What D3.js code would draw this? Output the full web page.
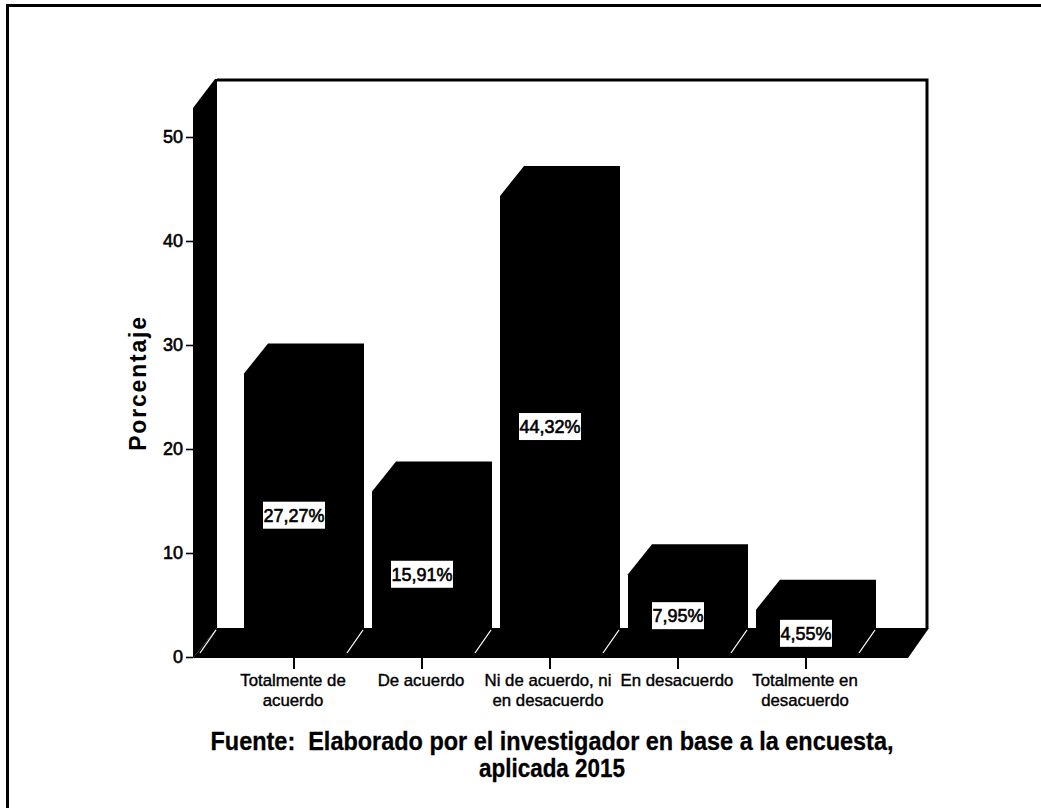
<!DOCTYPE html>
<html><head><meta charset="utf-8">
<script src="https://cdnjs.cloudflare.com/ajax/libs/d3/7.8.5/d3.min.js"></script>
<style>html,body{margin:0;padding:0;background:#fff}svg{display:block}text{font-family:"Liberation Sans",Arial,sans-serif;fill:#000}</style>
</head><body><svg id="c" width="1041" height="808"></svg>
<script>
const categories = [["Totalmente de","acuerdo"],["De acuerdo"],["Ni de acuerdo, ni","en desacuerdo"],["En desacuerdo"],["Totalmente en","desacuerdo"]];
const percentages = [27.27,15.91,44.32,7.95,4.55];
const yTicks = [0,10,20,30,40,50];
const titleLines = ["Fuente:  Elaborado por el investigador en base a la encuesta,","aplicada 2015"];
const titleWidths = [683,146];
const yTitle = "Porcentaje";

const svg = d3.select("#c");
const dx = 24, dy = 30;
const y = d3.scaleLinear().domain([0,50]).range([657,137]);
const keys = categories.map((_,i)=>i);
const x = d3.scaleBand().domain(keys).range([244,852]).paddingInner(32/128).paddingOuter(0);
const w = x.bandwidth();
const y0 = y(0)+1, wallL = 193, floorR = 908, topBack = 80;

// page frame
svg.append("path").attr("d","M7.5,808V5.5H1041").attr("fill","none").attr("stroke","#000").attr("stroke-width",3);

// back wall outline
svg.append("path").attr("d",`M${wallL+dx},${topBack}H${floorR+dx-5}V${y0-dy}`).attr("fill","none").attr("stroke","#000").attr("stroke-width",3);
// left wall
svg.append("path").attr("d",`M${wallL},${topBack+dy-2}L${wallL+dx-2},${topBack-1}H${wallL+dx}V${y0-dy}L${wallL},${y0}Z`).attr("fill","#000");
// floor
svg.append("path").attr("d",`M${wallL},${y0}L${wallL+dx},${y0-dy}H${floorR+dx-3}L${floorR},${y0}Z`).attr("fill","#000");

// bars
svg.append("g").selectAll("path").data(percentages).join("path")
  .attr("fill","#000")
  .attr("d",(v,i)=>{const a=x(i),t=y(v);return `M${a},${y0}V${t}L${a+dx},${t-dy}H${a+w+dx}V${y0-dy}L${a+w},${y0}Z`;});

// white floor grid slashes
const slashX = [wallL+dx].concat(keys.map(i=>x(i)+w+dx));
svg.append("g").selectAll("line").data(slashX).join("line")
  .attr("x1",d=>d-1).attr("y1",y0-dy+2).attr("x2",d=>d-17).attr("y2",y0-dy+25)
  .attr("stroke","#fff").attr("stroke-width",1.3);

// y axis
const yAxis = svg.append("g").attr("transform",`translate(${wallL},0)`)
  .call(d3.axisLeft(y).tickValues(yTicks).tickSize(7).tickPadding(3));
yAxis.select(".domain").remove();
yAxis.selectAll("line").attr("stroke","#000").attr("stroke-width",1.6);
yAxis.selectAll("text").style("font-size","18px").style("font-family","Liberation Sans").attr("stroke","#000").attr("stroke-width",0.6);

// x axis
const xAxis = svg.append("g").attr("transform",`translate(2,${y0})`)
  .call(d3.axisBottom(x).tickSize(11).tickFormat(""));
xAxis.select(".domain").remove();
xAxis.selectAll("line").attr("stroke","#000").attr("stroke-width",2);
const catG = svg.append("g").selectAll("text").data(categories).join("text")
  .attr("text-anchor","middle").attr("font-size",16.8).attr("stroke","#000").attr("stroke-width",0.4)
  .attr("transform",(d,i)=>`translate(${x(i)+w/2+(i===2?0:1)},${y0+28})`);
catG.selectAll("tspan").data(d=>d).join("tspan").attr("x",0).attr("dy",(d,i)=>i?20:0).text(d=>d);

// value labels
const lab = svg.append("g").selectAll("g").data(percentages).join("g")
  .attr("transform",(v,i)=>`translate(${x(i)+w/2+2},${y(v/2)})`);
const fmt = v=>d3.format(".2f")(v).replace(".",",")+"%";
lab.append("rect").attr("fill","#fff")
  .attr("x",v=>v<10?-26:-31).attr("y",-13.5).attr("width",v=>v<10?52:62).attr("height",27);
lab.append("text").attr("text-anchor","middle").attr("dy","0.36em").attr("font-size",18)
  .attr("stroke","#000").attr("stroke-width",0.6).text(fmt);

// y title
svg.append("text").attr("transform","translate(146,383) rotate(-90)").attr("text-anchor","middle")
  .attr("font-size",23).attr("font-weight","bold").attr("letter-spacing",1.8).text(yTitle);

// caption
svg.append("g").selectAll("text").data(titleLines).join("text")
  .attr("text-anchor","middle").attr("x",552).attr("y",(d,i)=>750+i*27)
  .attr("font-size",25).attr("font-weight","bold").attr("stroke","#000").attr("stroke-width",0.3)
  .attr("textLength",(d,i)=>titleWidths[i]).attr("lengthAdjust","spacingAndGlyphs")
  .style("white-space","pre").text(d=>d);
</script></body></html>
